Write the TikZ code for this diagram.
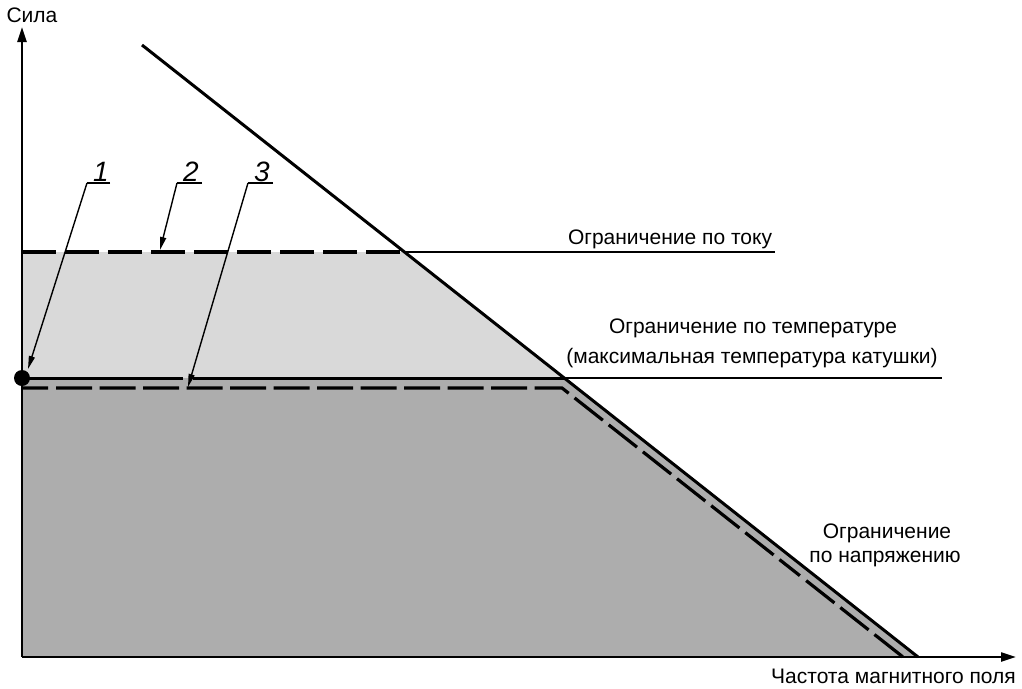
\documentclass[tikz,border=0pt]{standalone}
\usepackage{fontspec}
\setmainfont{Liberation Sans}
\usetikzlibrary{arrows.meta}
\definecolor{lightfill}{HTML}{D9D9D9}
\definecolor{darkfill}{HTML}{ADADAD}
\tikzset{
  axisline/.style={line width=2.2pt,-{Triangle[length=15pt,width=9pt]}},
  boldline/.style={line width=3pt},
  thinline/.style={line width=1.6pt},
  dashA/.style={line width=3.6pt,dash pattern=on 34pt off 9pt},
  dashB/.style={line width=3.2pt,dash pattern=on 26pt off 8pt on 36pt off 7.5pt on 36pt off 7.5pt on 36pt off 7.5pt on 36pt off 7.5pt on 36pt off 7.5pt on 36pt off 7.5pt on 36pt off 7.5pt on 36pt off 7.5pt on 36pt off 7.5pt on 36pt off 7.5pt on 36pt off 7.5pt on 36pt off 7.5pt on 36pt off 7.5pt on 36pt off 7.5pt on 36pt off 7.5pt on 36pt off 7.5pt on 36pt off 7.5pt on 36pt off 7.5pt},
  leader/.style={line width=1.4pt,-{Triangle[length=13pt,width=6pt]}},
  lbl/.style={font=\fontsize{21}{25}\selectfont,inner sep=0pt,anchor=base},
  num/.style={font=\fontsize{28}{30}\selectfont\itshape,inner sep=0pt,anchor=base},
}
\begin{document}
\begin{tikzpicture}[x=1pt,y=-1pt]
\useasboundingbox (0,0) rectangle (1022,688);
% key points
\coordinate (O) at (22,657);
\coordinate (ytip) at (22,27);
\coordinate (xtip) at (1016,657);
\coordinate (dtop) at (142,45);
\coordinate (dbot) at (918,657);
\coordinate (cI) at (404.5,252);
\coordinate (cT) at (564,378);
\coordinate (c3) at (562,388);
\coordinate (d3bot) at (903,657);
% fills
\fill[lightfill] (22,252) -- (cI) -- (cT) -- (22,378) -- cycle;
\fill[darkfill] (22,378) -- (cT) -- (dbot) -- (O) -- cycle;
% voltage limit diagonal
\draw[boldline] (dtop) -- (dbot);
% current limit
\draw[dashA] (22,252) -- (cI);
\draw[thinline] (cI) -- (775,252);
% temperature limit
\draw[boldline] (22,378) -- (183,378);
\draw[boldline] (193,378) -- (cT);
\draw[thinline] (cT) -- (942,378);
% line 3 (dashed)
\draw[dashB] (22,388) -- (c3) -- (d3bot);
% axes
\draw[axisline] (O) -- (ytip);
\draw[axisline] (O) -- (xtip);
% dot
\fill (22,378) circle (8);
% labels
\node[lbl] (sila) at (32,23) {Сила};
\node[lbl,anchor=base east] (freq) at (1016,683) {Частота магнитного поля};
\node[lbl] (lI) at (670,244) {Ограничение по току};
\node[lbl] (lT1) at (753,333) {Ограничение по температуре};
\node[lbl] (lT2) at (752,363) {(максимальная температура катушки)};
\node[lbl] (lU1) at (887,538) {Ограничение};
\node[lbl] (lU2) at (885,562) {по напряжению};
% numbered leaders
\node[num] (n1) at (101,181) {1};
\node[num] (n2) at (191,181) {2};
\node[num] (n3) at (262,181) {3};
\coordinate (u1a) at (87,183);  \coordinate (u1b) at (110,183);
\coordinate (u2a) at (177,183); \coordinate (u2b) at (202,183);
\coordinate (u3a) at (248,183); \coordinate (u3b) at (273,183);
\coordinate (t1) at (28,369);
\coordinate (t2) at (160,250);
\coordinate (t3) at (188,387);
\draw[line width=1.3pt] (u1b) -- (u1a);
\draw[line width=1.3pt] (u2b) -- (u2a);
\draw[line width=1.3pt] (u3b) -- (u3a);
\draw[leader] (u1a) -- (t1);
\draw[leader] (u2a) -- (t2);
\draw[leader] (u3a) -- (t3);
\end{tikzpicture}
\end{document}
